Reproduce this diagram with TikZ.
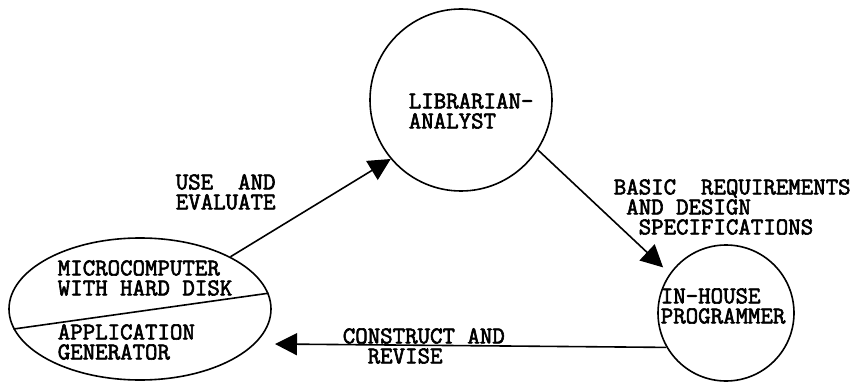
\documentclass[tikz,border=0pt]{standalone}
\usepackage{fontspec}
\setmonofont{Latin Modern Mono}[AutoFakeBold=2.5]
\usetikzlibrary{shapes.geometric,arrows.meta}

\begin{document}
\begin{tikzpicture}[x=1pt,y=-1pt,
line width=1.6pt,
bubble/.style={draw,circle,inner sep=0},
label/.style={font={\fontsize{24.2}{20}\selectfont\ttfamily\bfseries},align=left,anchor=west,inner sep=0},
flow/.style={-{Triangle[length=22pt,width=22pt]}}
]
\useasboundingbox (0,0) rectangle (860,385);

\node[bubble,minimum size=182pt] (lib) at (461,100) {};
\node[bubble,minimum size=136pt] (prog) at (726,313) {};
\node[draw,ellipse,minimum width=262pt,minimum height=142pt,inner sep=0] (micro) at (140,309) {};

\node[label] (libtxt) at (408,111) {LIBRARIAN-\\ANALYST};
\node[label] (progtxt) at (660,306) {IN-HOUSE\\PROGRAMMER};
\node[label] (microtxt) at (57,278) {MICROCOMPUTER\\WITH HARD DISK};
\node[label] (gentxt) at (57,342) {APPLICATION\\GENERATOR};

\draw (micro.189) -- (micro.7);

\coordinate (gen) at (275,344);

\draw[flow] (micro.30) -- (lib.220);
\draw[flow,shorten >=9pt] (lib.-33) -- (prog.145);
\draw[flow] (prog.210) -- (gen);

\node[label] (use) at (175,192) {USE~~AND\\EVALUATE};
\node[label] (basic) at (613,207) {BASIC~~REQUIREMENTS\\~AND DESIGN\\~~SPECIFICATIONS};
\node[label] (construct) at (342,346) {CONSTRUCT AND\\~~REVISE};
\end{tikzpicture}
\end{document}
